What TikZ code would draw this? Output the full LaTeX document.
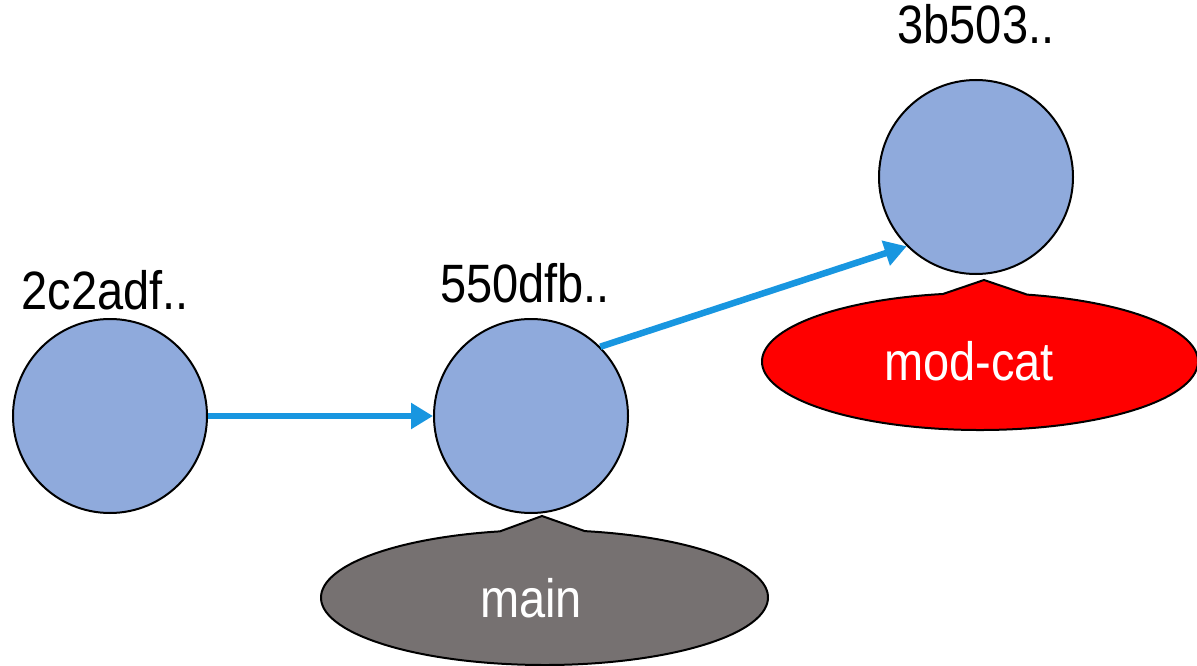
\documentclass[tikz,border=0pt]{standalone}
\usepackage{fontspec}
\setmainfont{Liberation Sans}[FakeStretch=0.87]
\usetikzlibrary{arrows.meta,calc}
\definecolor{commitfill}{HTML}{8FAADC}
\definecolor{arrowblue}{HTML}{1896E0}
\definecolor{maingray}{HTML}{767171}
\definecolor{modred}{HTML}{FF0000}
\tikzset{
  commit/.style={circle, draw=black, line width=2pt, fill=commitfill, minimum size=194pt, inner sep=0pt},
  hashlabel/.style={anchor=base, font=\fontsize{54}{60}\selectfont, text=black, inner sep=0pt},
  branchtext/.style={anchor=base, font=\fontsize{54}{60}\selectfont, text=white, inner sep=0pt},
  callout/.style={draw=black, line width=2pt, line join=miter},
  link/.style={draw=arrowblue, line width=6.5pt, -{Triangle[length=22pt,width=25pt]}},
}
\begin{document}
\begin{tikzpicture}[x=1pt,y=-1pt]
\useasboundingbox (0,0) rectangle (1197,666);
% commits
\node[commit] (c1) at (110,416) {};
\node[commit] (c2) at (531,416) {};
\node[commit] (c3) at (976,177) {};
% hash labels
\node[hashlabel] (l1) at (105,309) {2c2adf..};
\node[hashlabel] (l2) at (525,302) {550dfb..};
\node[hashlabel] (l3) at (976,44) {3b503..};
% arrows
\draw[link] (c1.east) -- (c2.west);
\draw[link] (c2.45) -- (c3.225);
% main callout
\coordinate (mainc) at (544.5,597.5);
\coordinate (maintip) at (542,516);
\path[callout, fill=maingray] (maintip) -- ($(mainc)+(-79.6:223.5 and 67.5)$)
  arc[start angle=-79.6, end angle=258.5, x radius=223.5, y radius=67.5] -- cycle;
\node[branchtext] (mainlbl) at (531,617) {main};
% mod-cat callout
\coordinate (modc) at (980,361.5);
\coordinate (modtip) at (984,280);
\path[callout, fill=modred] (modtip) -- ($(modc)+(-77.5:218 and 68.5)$)
  arc[start angle=-77.5, end angle=260.2, x radius=218, y radius=68.5] -- cycle;
\node[branchtext] (modlbl) at (969,380) {mod-cat};
\end{tikzpicture}
\end{document}
